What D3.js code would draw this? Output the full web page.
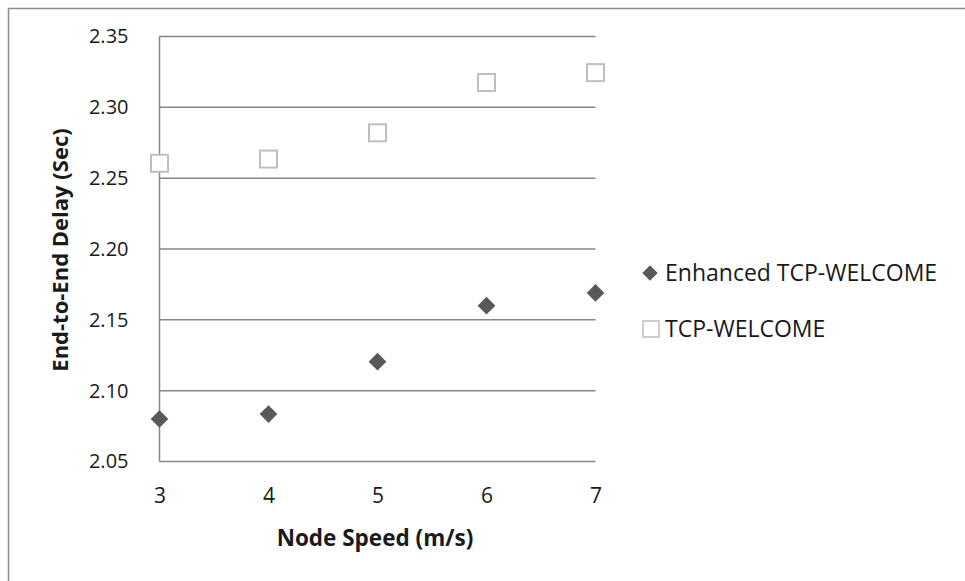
<!DOCTYPE html>
<html>
<head>
<meta charset="utf-8">
<script src="https://cdn.jsdelivr.net/npm/d3@7"></script>
<style>
  html, body { margin: 0; padding: 0; background: #fff; }
  svg { display: block; }
  text { font-family: "Open Sans", "Liberation Sans", sans-serif; fill: #1a1a1a; }
</style>
</head>
<body>
<script>
// ---- data ----
const nodeSpeeds = [3, 4, 5, 6, 7];
const enhancedDelay = [2.080, 2.0835, 2.1205, 2.160, 2.169];
const welcomeDelay = [2.2605, 2.2635, 2.282, 2.3175, 2.3245];
const yTicks = [2.05, 2.10, 2.15, 2.20, 2.25, 2.30, 2.35];
const xTicks = [3, 4, 5, 6, 7];
const seriesNames = ["Enhanced TCP-WELCOME", "TCP-WELCOME"];
const xTitle = "Node Speed (m/s)";
const yTitle = "End-to-End Delay (Sec)";

const W = 965, H = 581;
const svg = d3.select("body").append("svg").attr("width", W).attr("height", H);

// outer chart border
svg.append("rect").attr("x", 8.5).attr("y", 8.5).attr("width", W + 20).attr("height", H + 20)
  .attr("fill", "none").attr("stroke", "#8c8c8c").attr("stroke-width", 1.5);

const x = d3.scaleLinear().domain([3, 7]).range([159.5, 595.5]);
const y = d3.scaleLinear().domain([2.05, 2.35]).range([461.5, 36.5]);

// gridlines
svg.append("g").selectAll("line").data(yTicks).join("line")
  .attr("x1", x(3)).attr("x2", x(7))
  .attr("y1", d => y(d)).attr("y2", d => y(d))
  .attr("stroke", "#868686").attr("stroke-width", 1.5);

// left axis line
svg.append("line").attr("x1", x(3)).attr("x2", x(3))
  .attr("y1", y(2.35)).attr("y2", y(2.05))
  .attr("stroke", "#868686").attr("stroke-width", 1.5);

// y tick labels
const yAxis = d3.axisLeft(y).tickValues(yTicks).tickFormat(d3.format(".2f")).tickSize(0).tickPadding(31);
const gy = svg.append("g").attr("transform", `translate(${x(3)},0)`).call(yAxis);
gy.select(".domain").remove();
gy.selectAll("text").attr("font-size", 20).attr("font-family", "Open Sans").attr("fill", "#1a1a1a");

// x tick labels
const xAxis = d3.axisBottom(x).tickValues(xTicks).tickFormat(d3.format("d")).tickSize(0).tickPadding(27);
const gx = svg.append("g").attr("transform", `translate(0,${y(2.05)})`).call(xAxis);
gx.select(".domain").remove();
gx.selectAll("text").attr("font-size", 21).attr("font-family", "Open Sans").attr("fill", "#1a1a1a");

// axis titles
svg.append("text").attr("x", 375).attr("y", 546).attr("text-anchor", "middle")
  .attr("font-size", 22.5).attr("font-weight", "bold").text(xTitle);
svg.append("text").attr("transform", "translate(68,250) rotate(-90)").attr("text-anchor", "middle")
  .attr("font-size", 22).attr("font-weight", "bold").text(yTitle);

// markers
const diamond = d3.symbol().type(d3.symbolDiamond2).size(200);
svg.append("g").selectAll("path").data(nodeSpeeds).join("path")
  .attr("d", diamond)
  .attr("transform", (d, i) => `translate(${x(d)},${y(enhancedDelay[i])})`)
  .attr("fill", "#595959");

const sq = 17;
svg.append("g").selectAll("rect").data(nodeSpeeds).join("rect")
  .attr("x", d => x(d) - sq / 2)
  .attr("y", (d, i) => y(welcomeDelay[i]) - sq / 2)
  .attr("width", sq).attr("height", sq)
  .attr("fill", "#fff").attr("stroke", "#bfbfbf").attr("stroke-width", 2);

// legend
const lg = svg.append("g");
lg.append("path").attr("d", d3.symbol().type(d3.symbolDiamond2).size(150))
  .attr("transform", "translate(650,273)").attr("fill", "#595959");
lg.append("text").attr("x", 665).attr("y", 273).attr("dy", "0.35em")
  .attr("font-size", 23).text(seriesNames[0]);
lg.append("rect").attr("x", 643).attr("y", 321).attr("width", 16).attr("height", 16)
  .attr("fill", "#fff").attr("stroke", "#bfbfbf").attr("stroke-width", 1.5);
lg.append("text").attr("x", 665).attr("y", 329).attr("dy", "0.35em")
  .attr("font-size", 23).text(seriesNames[1]);
</script>
</body>
</html>
